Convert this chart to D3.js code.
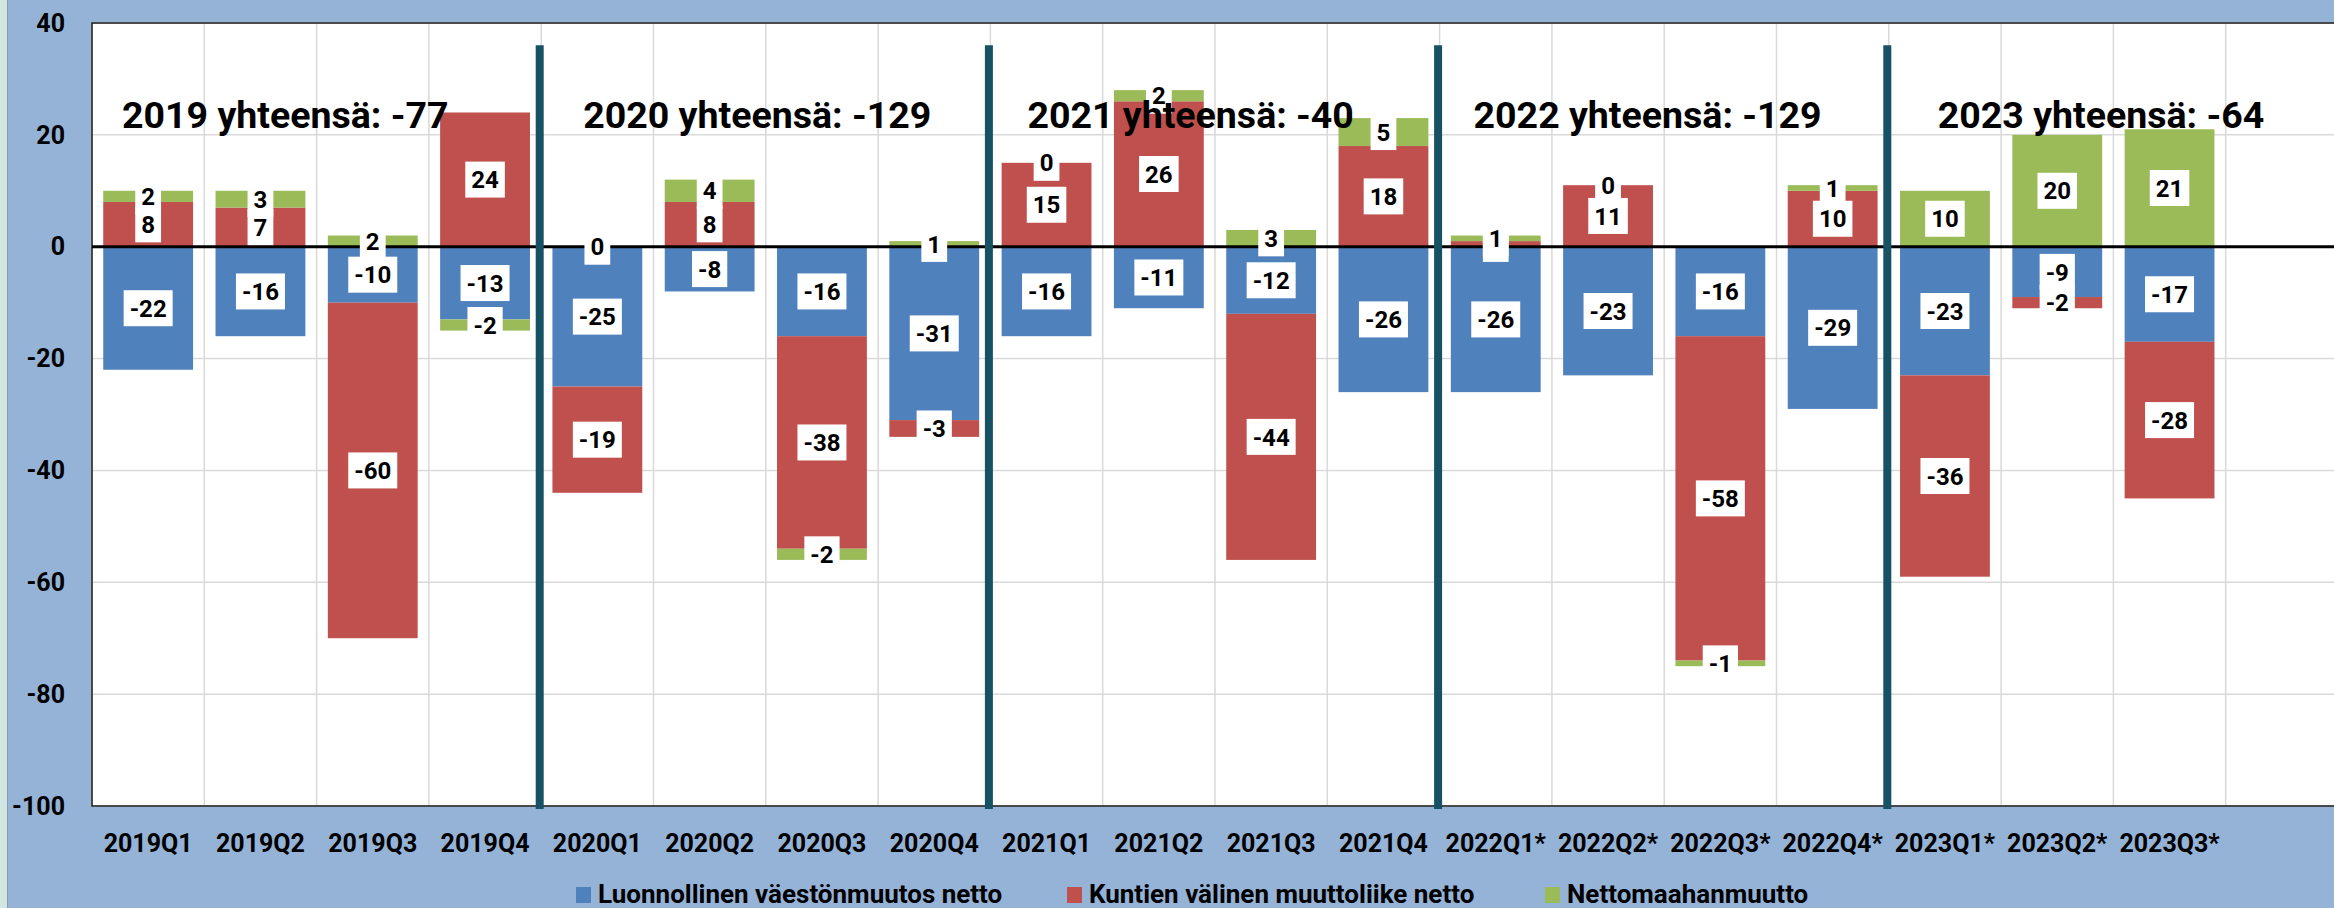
<!DOCTYPE html>
<html>
<head>
<meta charset="utf-8">
<script src="https://cdn.jsdelivr.net/npm/d3@7"></script>
<style>
  html, body { margin: 0; padding: 0; background: #95b3d7; }
  svg { display: block; font-family: Roboto, "Liberation Sans", sans-serif; font-weight: bold; }
</style>
</head>
<body>
<svg id="chart" width="2334" height="908"></svg>
<script>
// Quarters (the last band is an empty slot for 2023Q4)
var quarters = ["2019Q1", "2019Q2", "2019Q3", "2019Q4",
    "2020Q1", "2020Q2", "2020Q3", "2020Q4",
    "2021Q1", "2021Q2", "2021Q3", "2021Q4",
    "2022Q1*", "2022Q2*", "2022Q3*", "2022Q4*",
    "2023Q1*", "2023Q2*", "2023Q3*", ""];

// Series values per quarter
var natural     = [-22, -16, -10, -13, -25, -8, -16, -31, -16, -11, -12, -26, -26, -23, -16, -29, -23, -9, -17];
var municipal   = [8, 7, -60, 24, -19, 8, -38, -3, 15, 26, -44, 18, 1, 11, -58, 10, -36, -2, -28];
var immigration = [2, 3, 2, -2, 0, 4, -2, 1, 0, 2, 3, 5, 1, 0, -1, 1, 10, 20, 21];

var seriesKeys = ["natural", "municipal", "immigration"];
var seriesNames = ["Luonnollinen väestönmuutos netto", "Kuntien välinen muuttoliike netto", "Nettomaahanmuutto"];
var seriesColors = ["#4f81bd", "#c0504d", "#9bbb59"];

// Yearly totals shown as titles, and the first quarter of each year
var yearTitles = ["2019 yhteensä: -77", "2020 yhteensä: -129", "2021 yhteensä: -40", "2022 yhteensä: -129", "2023 yhteensä: -64"];
var yearStarts = ["2019Q1", "2020Q1", "2021Q1", "2022Q1*", "2023Q1*"];
var titleDx = [30, 42, 37, 34, 49];

var yTicks = [-100, -80, -60, -40, -20, 0, 20, 40];

var svg = d3.select("#chart");
var plotLeft = 92, plotTop = 23, plotBottom = 806, plotRight = 2338;

var x = d3.scaleBand()
    .domain(quarters)
    .range([plotLeft, plotRight])
    .paddingInner(0.2)
    .paddingOuter(0.1);
var step = x.step();

var y = d3.scaleLinear()
    .domain([-100, 40])
    .range([plotBottom, plotTop]);

// left edge strip
svg.append("rect").attr("x", 0).attr("y", 0).attr("width", 7).attr("height", 908).attr("fill", "#d3e5e2");
svg.append("line").attr("x1", 7.5).attr("x2", 7.5).attr("y1", 0).attr("y2", 908).attr("stroke", "#8a9aa8").attr("stroke-width", 1);

// plot area
svg.append("rect")
    .attr("x", plotLeft).attr("y", plotTop)
    .attr("width", plotRight - plotLeft).attr("height", plotBottom - plotTop)
    .attr("fill", "#ffffff");

// horizontal grid
svg.append("g").selectAll("line")
    .data(yTicks)
    .enter().append("line")
    .attr("x1", plotLeft).attr("x2", plotRight)
    .attr("y1", function(d) { return y(d); })
    .attr("y2", function(d) { return y(d); })
    .attr("stroke", "#d9d9d9").attr("stroke-width", 1.5);

// vertical grid at band boundaries
svg.append("g").selectAll("line")
    .data(quarters)
    .enter().append("line")
    .attr("x1", function(d) { return x(d) - step * 0.1; })
    .attr("x2", function(d) { return x(d) - step * 0.1; })
    .attr("y1", plotTop).attr("y2", plotBottom)
    .attr("stroke", "#d9d9d9").attr("stroke-width", 1.5);

// plot border
svg.append("path")
    .attr("d", "M" + plotRight + "," + plotTop + "H" + plotLeft + "V" + plotBottom + "H" + plotRight)
    .attr("fill", "none").attr("stroke", "#1a1a1a").attr("stroke-width", 1.5);

// stack like Excel: zero values sit on top of the positive stack
function excelDiverging(series, order) {
    var m = series[order[0]].length;
    for (var j = 0; j < m; j++) {
        var yp = 0, yn = 0;
        for (var i = 0; i < series.length; i++) {
            var d = series[order[i]][j], dy = d[1] - d[0];
            if (dy >= 0) { d[0] = yp; d[1] = yp += dy; }
            else { d[1] = yn; d[0] = yn += dy; }
        }
    }
}

var rows = natural.map(function(v, i) {
    return { q: quarters[i], natural: v, municipal: municipal[i], immigration: immigration[i] };
});

var stacked = d3.stack().keys(seriesKeys).offset(excelDiverging)(rows);

var layers = svg.append("g").selectAll("g")
    .data(stacked)
    .enter().append("g")
    .attr("fill", function(d, i) { return seriesColors[i]; });

layers.selectAll("rect")
    .data(function(d) { return d; })
    .enter().append("rect")
    .attr("x", function(d) { return x(d.data.q); })
    .attr("width", x.bandwidth())
    .attr("y", function(d) { return y(d[1]); })
    .attr("height", function(d) { return y(d[0]) - y(d[1]); });

// zero line
svg.append("line")
    .attr("x1", plotLeft).attr("x2", plotRight)
    .attr("y1", y(0)).attr("y2", y(0))
    .attr("stroke", "#000").attr("stroke-width", 3);

// year separators
svg.append("g").selectAll("line")
    .data(yearStarts.slice(1))
    .enter().append("line")
    .attr("x1", function(d) { return x(d) - step * 0.1 - 1.5; })
    .attr("x2", function(d) { return x(d) - step * 0.1 - 1.5; })
    .attr("y1", y(36)).attr("y2", y(-100) + 3)
    .attr("stroke", "#175264").attr("stroke-width", 8);

// data labels
var labels = svg.append("g").selectAll("g")
    .data(stacked)
    .enter().append("g")
    .selectAll("g")
    .data(function(d) { return d.map(function(p) { return { p: p, key: d.key }; }); })
    .enter().append("g")
    .attr("transform", function(d) {
        return "translate(" + (x(d.p.data.q) + x.bandwidth() / 2) + "," + y((d.p[0] + d.p[1]) / 2) + ")";
    });

labels.append("rect").attr("fill", "#fff");
labels.append("text")
    .attr("text-anchor", "middle")
    .attr("dy", "0.36em")
    .attr("font-size", "24px")
    .attr("fill", "#000")
    .text(function(d) { return d.p.data[d.key]; });
labels.each(function() {
    var g = d3.select(this);
    var w = g.select("text").node().getComputedTextLength() + 12;
    g.select("rect").attr("x", -w / 2).attr("y", -18).attr("width", w).attr("height", 36);
});

// y axis labels
svg.append("g").selectAll("text")
    .data(yTicks)
    .enter().append("text")
    .attr("x", 65)
    .attr("y", function(d) { return y(d); })
    .attr("dy", "0.35em")
    .attr("text-anchor", "end")
    .attr("font-size", "25px")
    .text(function(d) { return d; });

// x axis labels
svg.append("g").selectAll("text")
    .data(quarters)
    .enter().append("text")
    .attr("x", function(d) { return x(d) + x.bandwidth() / 2; })
    .attr("y", 852)
    .attr("text-anchor", "middle")
    .attr("font-size", "25px")
    .text(function(d) { return d; });

// year totals
svg.append("g").selectAll("text")
    .data(yearTitles)
    .enter().append("text")
    .attr("x", function(d, i) { return x(yearStarts[i]) - step * 0.1 + titleDx[i]; })
    .attr("y", 128)
    .attr("font-size", "37.5px")
    .text(function(d) { return d; });

// legend
var legendX = [576, 1067, 1545];
var legend = svg.append("g").selectAll("g")
    .data(seriesNames)
    .enter().append("g")
    .attr("transform", function(d, i) { return "translate(" + legendX[i] + ",0)"; });
legend.append("rect")
    .attr("y", 887).attr("width", 15).attr("height", 16)
    .attr("fill", function(d, i) { return seriesColors[i]; });
legend.append("text")
    .attr("x", 22).attr("y", 903)
    .attr("font-size", "26px")
    .text(function(d) { return d; });
</script>
</body>
</html>
